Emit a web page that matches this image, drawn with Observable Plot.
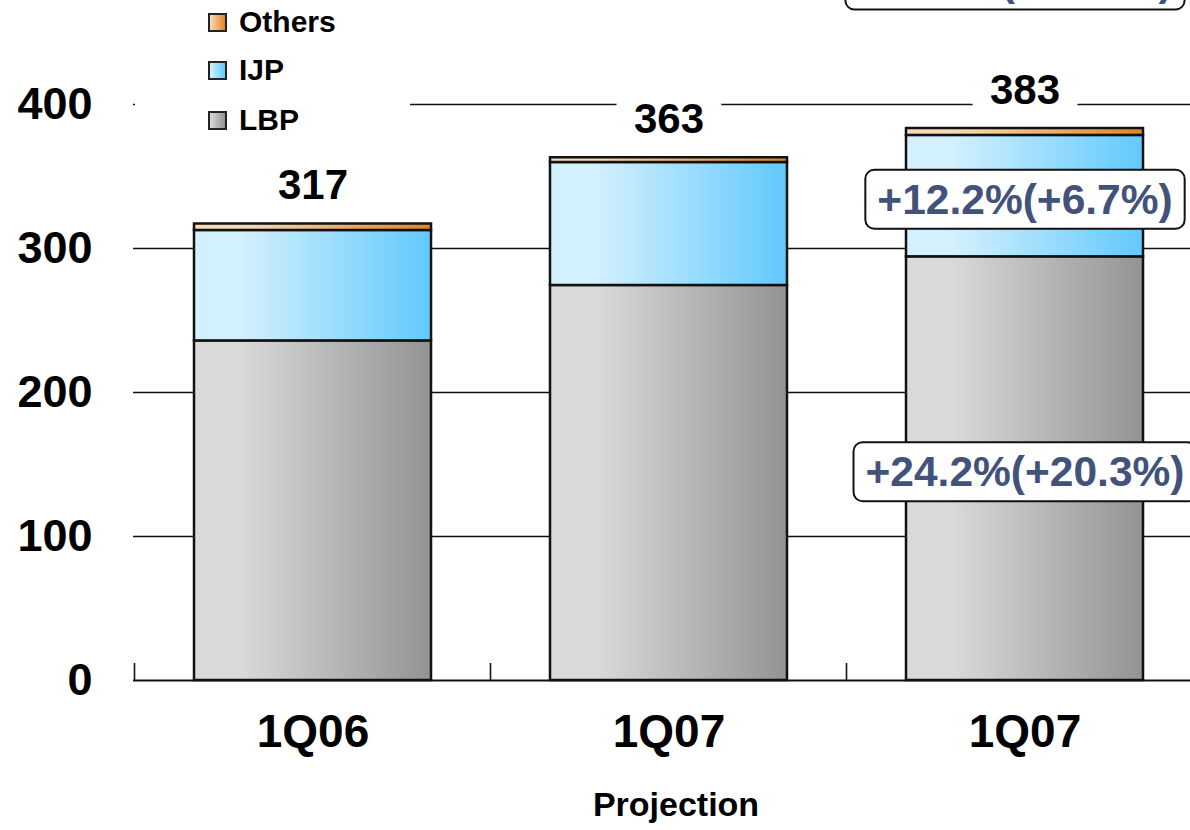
<!DOCTYPE html>
<html><head><meta charset="utf-8">
<script src="https://cdn.jsdelivr.net/npm/d3@7"></script>
<script src="https://cdn.jsdelivr.net/npm/@observablehq/plot@0.6"></script>
<style>
body{margin:0;background:#fff;overflow:hidden;font-family:"Liberation Sans",Arial,sans-serif}
#wrap{position:relative;width:1190px;height:830px;overflow:hidden}
#legend{position:absolute;left:135px;top:0;width:275px;height:142px;background:#fff}
.li{position:absolute;left:73px;height:36px;display:flex;align-items:center;font-weight:bold;font-size:30px;color:#000;white-space:nowrap}
.sw{width:15px;height:15px;border:2px solid #222;margin-right:12px}
</style></head><body><div id="wrap"></div>
<script>
// ---- data ----
const categories = ["1Q06", "1Q07", "1Q07P"];
const tickLabels = ["1Q06", "1Q07", "1Q07"];
const series = ["LBP", "IJP", "Others"];
const lbpValues = [235.8, 274.3, 294.2];
const ijpValues = [76.7, 85.4, 84.3];
const othersValues = [4.5, 3.3, 4.8];
const totalLabels = [317, 363, 383];
const yTicks = [0, 100, 200, 300, 400];
const legendOrder = ["Others", "IJP", "LBP"];
const caption = "Projection";
const annotCategory = "1Q07P";
const annotSeries = ["Total", "IJP", "LBP"];
const annotTexts = ["+20.8%(+15.9%)", "+12.2%(+6.7%)", "+24.2%(+20.3%)"];

const gradColors = {LBP: ["#d9d9d9", "#939393"], IJP: ["#d3f0fe", "#62c9fd"], Others: ["#f7dcb9", "#df8526"]};

// ---- build tables ----
const valuesBySeries = {LBP: lbpValues, IJP: ijpValues, Others: othersValues};
const stacked = [];
categories.forEach((c, i) => series.forEach(s => stacked.push({cat: c, series: s, value: valuesBySeries[s][i]})));
const totals = categories.map((c, i) => ({cat: c, total: lbpValues[i] + ijpValues[i] + othersValues[i], label: String(totalLabels[i])}));
const ci = categories.indexOf(annotCategory);
const annots = annotSeries.map((s, k) => {
  let mid = null;
  if (s === "LBP") mid = lbpValues[ci] / 2;
  if (s === "IJP") mid = lbpValues[ci] + ijpValues[ci] / 2;
  return {cat: annotCategory, series: s, mid, text: annotTexts[k]};
});

const chart = Plot.plot({
  width: 1190, height: 830,
  marginTop: 0, marginBottom: 150, marginLeft: 133, marginRight: 0,
  style: {fontFamily: "'Liberation Sans', Arial, sans-serif", background: "white", overflow: "visible"},
  x: {domain: categories, range: [133, 1204], paddingInner: 0.333, paddingOuter: 0.1667, axis: null},
  y: {domain: [0, 472.2], axis: null},
  color: {type: "ordinal", domain: series, range: series.map(s => `url(#g-${s})`)},
  marks: [
    Plot.ruleY(yTicks.filter(d => d > 0), {stroke: "#111", strokeWidth: 1.6}),
    Plot.ruleY([0], {stroke: "#111", strokeWidth: 2}),
    Plot.ruleX(categories, {x: d => d, dx: -178.5, y1: 0, y2: 11.8, stroke: "#111", strokeWidth: 1.6}),
    Plot.text(totals, {x: "cat", y: "total", text: "label", dy: -38, fontSize: 42, fontWeight: "bold", fill: "#000",
      stroke: "white", strokeWidth: 40, strokeLinejoin: "round", paintOrder: "stroke"}),
    Plot.barY(stacked, {x: "cat", y: "value", fill: "series", stroke: "#111", strokeWidth: 2.5}),
    Plot.text(yTicks, {frameAnchor: "left", y: d => d, text: d => String(d), textAnchor: "end", dx: -41, fontSize: 45, fontWeight: "bold", fill: "#000"}),
    Plot.text(categories, {x: d => d, frameAnchor: "bottom", text: (d, i) => tickLabels[i], dy: 66, fontSize: 46, fontWeight: "bold", fill: "#000"}),
    Plot.text([caption], {x: () => categories[1], frameAnchor: "bottom", text: d => d, dx: 7, dy: 135, fontSize: 34, fontWeight: "bold", fill: "#000"}),
    Plot.text(annots.filter(a => a.mid === null), {x: "cat", frameAnchor: "top", lineAnchor: "bottom", text: "text", dx: -10, dy: -6, fontSize: 42, fontWeight: "bold", fill: "#42527a"}),
    Plot.text(annots.filter(a => a.mid !== null), {x: "cat", y: "mid", text: "text", dy: 4, fontSize: 42.5, fontWeight: "bold", fill: "#42527a"})
  ]
});

const wrap = document.getElementById("wrap");
wrap.appendChild(chart);
const ns = "http://www.w3.org/2000/svg";
const defs = document.createElementNS(ns, "defs");
for (const s of series) {
  const g = document.createElementNS(ns, "linearGradient");
  g.setAttribute("id", `g-${s}`);
  g.setAttribute("x1", "0"); g.setAttribute("x2", "1"); g.setAttribute("y1", "0"); g.setAttribute("y2", "0");
  [[0, gradColors[s][0]], [0.2, gradColors[s][0]], [1, gradColors[s][1]]].forEach(([o, c]) => {
    const st = document.createElementNS(ns, "stop");
    st.setAttribute("offset", o); st.setAttribute("stop-color", c);
    g.appendChild(st);
  });
  defs.appendChild(g);
}
chart.insertBefore(defs, chart.firstChild);

// rounded boxes behind annotation texts, sized from the rendered text
const sr = chart.getBoundingClientRect();
const annNodes = [...chart.querySelectorAll("text")].filter(t => annotTexts.includes(t.textContent));
for (const t of annNodes) {
  const b = t.getBoundingClientRect();
  const r = document.createElementNS(ns, "rect");
  r.setAttribute("x", b.left - sr.left - 12);
  r.setAttribute("y", b.top - sr.top - 6);
  r.setAttribute("width", b.width + 24);
  r.setAttribute("height", b.height + 12);
  r.setAttribute("rx", 9);
  r.setAttribute("fill", "white");
  r.setAttribute("stroke", "#111");
  r.setAttribute("stroke-width", 2);
  let top = t; while (top.parentNode !== chart) top = top.parentNode;
  chart.insertBefore(r, top);
}

// legend
const leg = document.createElement("div");
leg.id = "legend";
const rowTops = [4, 52, 102];
legendOrder.forEach((s, i) => {
  const row = document.createElement("div");
  row.className = "li";
  row.style.top = rowTops[i] + "px";
  const sw = document.createElement("span");
  sw.className = "sw";
  sw.style.background = `linear-gradient(to right, ${gradColors[s][0]}, ${gradColors[s][1]})`;
  row.appendChild(sw);
  row.appendChild(document.createTextNode(s));
  leg.appendChild(row);
});
wrap.appendChild(leg);
</script></body></html>
